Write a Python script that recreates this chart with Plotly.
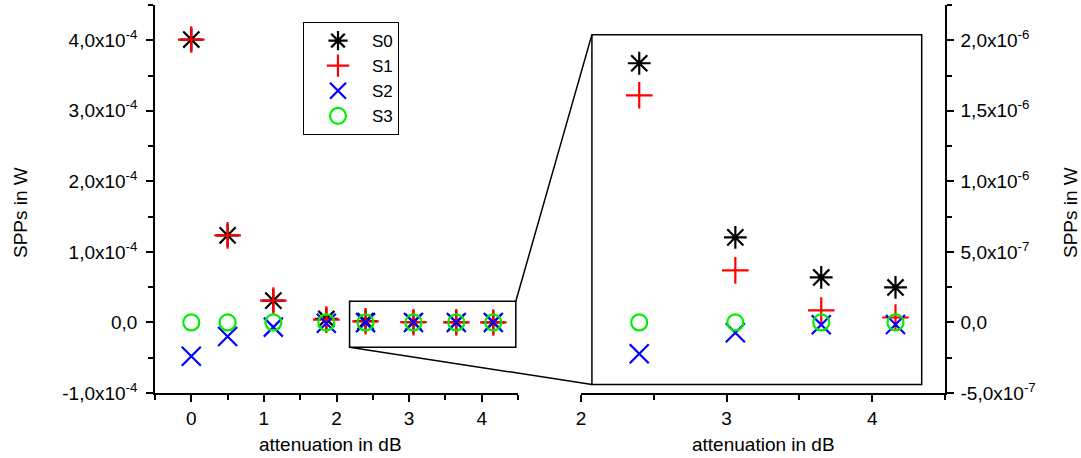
import plotly.graph_objects as go

# ---------------- data ----------------
atten = [0.0, 0.50, 1.13, 1.86, 2.40, 3.06, 3.65, 4.16]
S0 = [4.01e-4, 1.234e-4, 3.1e-5, 5e-6, 1.837e-6, 6.03e-7, 3.19e-7, 2.48e-7]
S1 = [4.01e-4, 1.234e-4, 3.1e-5, 4e-6, 1.61e-6, 3.69e-7, 8.5e-8, 3.5e-8]
S2 = [-4.8e-5, -2.0e-5, -6.6e-6, -1.0e-6, -2.22e-7, -7.3e-8, -1.6e-8, -1.4e-8]
S3 = [0.0, 0.0, 0.0, 0.0, 0.0, 0.0, 0.0, 0.0]
series_names = ["S0", "S1", "S2", "S3"]

left_y_ticks = [-1e-4, 0, 1e-4, 2e-4, 3e-4, 4e-4]
left_y_text = ["-1,0x10<sup>-4</sup>", "0,0", "1,0x10<sup>-4</sup>", "2,0x10<sup>-4</sup>",
               "3,0x10<sup>-4</sup>", "4,0x10<sup>-4</sup>"]
right_y_ticks = [-5e-7, 0, 5e-7, 1e-6, 1.5e-6, 2e-6]
right_y_text = ["-5,0x10<sup>-7</sup>", "0,0", "5,0x10<sup>-7</sup>", "1,0x10<sup>-6</sup>",
                "1,5x10<sup>-6</sup>", "2,0x10<sup>-6</sup>"]
left_x_ticks = [0, 1, 2, 3, 4]
right_x_ticks = [2, 3, 4]

# ---------------- styles ----------------
FONT = "Arial, Liberation Sans, sans-serif"
FS = 19
styles = [
    dict(symbol="asterisk-open", color="black", size=19),
    dict(symbol="cross-thin-open", color="red", size=19),
    dict(symbol="x-thin-open", color="blue", size=19),
    dict(symbol="circle-open", color="#00ee00", size=16),
]

W, H = 1081, 458
L_dom = [155 / W, 518 / W]
R_dom = [581 / W, 945 / W]
Y_dom = [1 - 393 / H, 1 - 5 / H]
L_xr = [-0.5, 4.5]
L_yr = [-1e-4, 4.5e-4]
R_xr = [2.0, 4.5]
R_yr = [-5e-7, 2.25e-6]

fig = go.Figure()
data = [S0, S1, S2, S3]
for name, ys, st in zip(series_names, data, styles):
    mk = dict(symbol=st["symbol"], size=st["size"], color=st["color"],
              line=dict(color=st["color"], width=2.2))
    fig.add_trace(go.Scatter(x=atten, y=ys, mode="markers", name=name, marker=mk,
                             xaxis="x", yaxis="y", showlegend=True))
for name, ys, st in zip(series_names, data, styles):
    mk = dict(symbol=st["symbol"], size=st["size"], color=st["color"],
              line=dict(color=st["color"], width=2.2))
    fig.add_trace(go.Scatter(x=atten, y=ys, mode="markers", name=name, marker=mk,
                             xaxis="x2", yaxis="y2", showlegend=False))

axis_common = dict(showline=True, linecolor="black", linewidth=1.5, ticks="outside",
                   ticklen=7, tickwidth=1.5, tickcolor="black", showgrid=False,
                   zeroline=False, automargin=False,
                   tickfont=dict(family=FONT, size=FS, color="black"))
minor_common = dict(ticks="outside", ticklen=5, tickwidth=1.5, tickcolor="black", showgrid=False)

fig.update_layout(
    template="none",
    width=W, height=H, margin=dict(l=0, r=0, t=0, b=0, autoexpand=False),
    paper_bgcolor="white", plot_bgcolor="white",
    font=dict(family=FONT, size=FS, color="black"),
    xaxis=dict(domain=L_dom, range=L_xr, anchor="y", tickmode="array", tickvals=left_x_ticks,
               minor=dict(tickvals=[-0.5, 0.5, 1.5, 2.5, 3.5, 4.5], **minor_common),
               ticklabelstandoff=0, **axis_common),
    yaxis=dict(domain=Y_dom, range=L_yr, anchor="x", tickmode="array", tickvals=left_y_ticks,
               ticktext=left_y_text,
               minor=dict(tickvals=[-0.5e-4, 0.5e-4, 1.5e-4, 2.5e-4, 3.5e-4, 4.5e-4], **minor_common),
               ticklabelstandoff=5, **axis_common),
    xaxis2=dict(domain=R_dom, range=R_xr, anchor="y2", tickmode="array", tickvals=right_x_ticks,
                minor=dict(tickvals=[2.5, 3.5, 4.5], **minor_common),
                ticklabelstandoff=0, **axis_common),
    yaxis2=dict(domain=Y_dom, range=R_yr, anchor="x2", side="right", tickmode="array",
                tickvals=right_y_ticks, ticktext=right_y_text,
                minor=dict(tickvals=[-2.5e-7, 2.5e-7, 7.5e-7, 1.25e-6, 1.75e-6, 2.25e-6], **minor_common),
                ticklabelstandoff=3, **axis_common),
    legend=dict(x=303 / W, y=1 - 22 / H, xanchor="left", yanchor="top",
                bordercolor="black", borderwidth=1, bgcolor="white",
                font=dict(family=FONT, size=17, color="black"),
                itemwidth=58, tracegroupgap=0),
    showlegend=True,
)

# zoom rectangles
small = dict(x0=2.18, x1=4.47, y0=-0.35e-4, y1=0.3e-4)
big = dict(x0=2.075, x1=4.34, y0=-4.4e-7, y1=2.04e-6)
fig.add_shape(type="rect", xref="x", yref="y", line=dict(color="black", width=1.5), **small)
fig.add_shape(type="rect", xref="x2", yref="y2", line=dict(color="black", width=1.5), **big)


def px(v, rng, dom):
    return dom[0] + (v - rng[0]) / (rng[1] - rng[0]) * (dom[1] - dom[0])


# connectors: small top-right -> big top-left; small bottom-left -> big bottom-left
fig.add_shape(type="line", xref="paper", yref="paper",
              x0=px(small["x1"], L_xr, L_dom), y0=px(small["y1"], L_yr, Y_dom),
              x1=px(big["x0"], R_xr, R_dom), y1=px(big["y1"], R_yr, Y_dom),
              line=dict(color="black", width=1.5))
fig.add_shape(type="line", xref="paper", yref="paper",
              x0=px(small["x0"], L_xr, L_dom), y0=px(small["y0"], L_yr, Y_dom),
              x1=px(big["x0"], R_xr, R_dom), y1=px(big["y0"], R_yr, Y_dom),
              line=dict(color="black", width=1.5))

# axis titles
ann = dict(xref="paper", yref="paper", showarrow=False, xanchor="center", yanchor="middle",
           font=dict(family=FONT, size=FS, color="black"))
fig.add_annotation(text="SPPs in W", x=21 / W, y=1 - 213 / H, textangle=-90, **ann)
fig.add_annotation(text="SPPs in W", x=1071 / W, y=1 - 213 / H, textangle=-90, **ann)
fig.add_annotation(text="attenuation in dB", x=330 / W, y=1 - 444 / H, **ann)
fig.add_annotation(text="attenuation in dB", x=763 / W, y=1 - 444 / H, **ann)

fig.write_html("out.html")
